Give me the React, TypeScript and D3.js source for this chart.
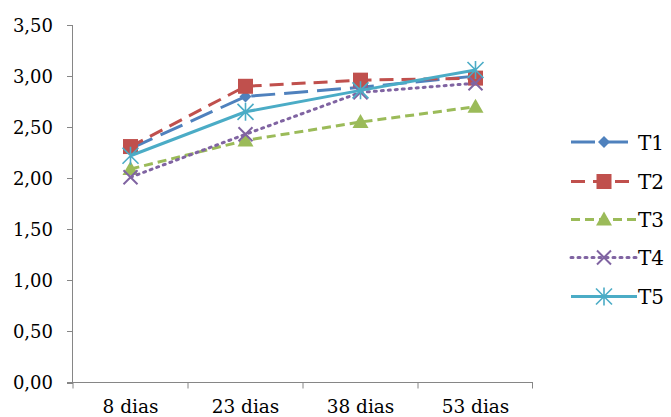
import React from "react";
import * as d3 from "d3";

const categories = ["8 dias", "23 dias", "38 dias", "53 dias"];
const seriesNames = ["T1", "T2", "T3", "T4", "T5"];
const t1 = [2.29, 2.8, 2.89, 3.0];
const t2 = [2.31, 2.9, 2.96, 2.98];
const t3 = [2.09, 2.37, 2.55, 2.7];
const t4 = [2.01, 2.43, 2.84, 2.93];
const t5 = [2.22, 2.65, 2.86, 3.06];
const yTicks = [0, 0.5, 1, 1.5, 2, 2.5, 3, 3.5];

const seriesValues = [t1, t2, t3, t4, t5];
const colors = ["#4F81BD", "#C0504D", "#9BBB59", "#8064A2", "#4BACC6"];
const dashes = ["24,9", "14,8", "9,5", "2,5", "none"];
const markerTypes = ["diamond", "square", "triangle", "x", "star"];

const W = 671;
const H = 417;
const FONT = "'DejaVu Serif', serif";
const AXIS = "#868686";

function Marker({ type, x, y, color }: { type: string; x: number; y: number; color: string }) {
  if (type === "diamond") {
    const s = 6;
    return <path d={`M${x},${y - s}L${x + s},${y}L${x},${y + s}L${x - s},${y}Z`} fill={color} />;
  }
  if (type === "square") {
    const s = 7.5;
    return <rect x={x - s} y={y - s} width={2 * s} height={2 * s} fill={color} />;
  }
  if (type === "triangle") {
    const s = 8;
    return <path d={`M${x},${y - s}L${x + s},${y + s * 0.75}L${x - s},${y + s * 0.75}Z`} fill={color} />;
  }
  if (type === "x") {
    const s = 7;
    return (
      <path d={`M${x - s},${y - s}L${x + s},${y + s}M${x - s},${y + s}L${x + s},${y - s}`} stroke={color} strokeWidth={2} />
    );
  }
  const s = 8;
  return (
    <path
      d={`M${x - s},${y - s}L${x + s},${y + s}M${x - s},${y + s}L${x + s},${y - s}M${x},${y - s - 1}L${x},${y + s + 1}`}
      stroke={color}
      strokeWidth={1.6}
    />
  );
}

export default function App() {
  const x0 = 73;
  const x1 = 533;
  const yTop = 25;
  const yBot = 382.5;
  const xBand = d3.scaleBand<string>().domain(categories).range([x0, x1]);
  const xc = (c: string) => (xBand(c) as number) + xBand.bandwidth() / 2;
  const y = d3.scaleLinear().domain([0, 3.5]).range([yBot, yTop]);
  const line = d3
    .line<number>()
    .x((_, i) => xc(categories[i]))
    .y((d) => y(d));

  const legendY = [142, 181.5, 219.5, 257.5, 296.5];
  const lx0 = 571;
  const lx1 = 637;

  return (
    <svg width={W} height={H} style={{ position: "absolute", left: 0, top: 0, background: "#fff" }}>
      <rect x={0} y={0} width={W} height={H} fill="#fff" />
      {/* y axis */}
      <line x1={x0 - 0.5} x2={x0 - 0.5} y1={yTop} y2={yBot} stroke={AXIS} strokeWidth={1} />
      {yTicks.map((t) => (
        <g key={t}>
          <line x1={x0 - 6} x2={x0} y1={Math.round(y(t)) + 0.5} y2={Math.round(y(t)) + 0.5} stroke={AXIS} />
          <text x={53} y={y(t) + 6.5} textAnchor="end" fontFamily={FONT} fontSize={18} fill="#000">
            {d3.format(".2f")(t).replace(".", ",")}
          </text>
        </g>
      ))}
      {/* x axis */}
      <line x1={x0 - 6} x2={x1} y1={yBot} y2={yBot} stroke={AXIS} strokeWidth={1} />
      {categories.map((c, i) => (
        <line key={"t" + i} x1={xBand(c)} x2={xBand(c)} y1={yBot} y2={yBot + 6} stroke={AXIS} />
      ))}
      <line x1={x1 - 0.5} x2={x1 - 0.5} y1={yBot} y2={yBot + 6} stroke={AXIS} />
      {categories.map((c) => (
        <text key={c} x={xc(c)} y={413} textAnchor="middle" fontFamily={FONT} fontSize={18.5} fill="#000">
          {c}
        </text>
      ))}
      {/* series */}
      {seriesValues.map((vals, si) => (
        <g key={si}>
          <path
            d={line(vals) as string}
            fill="none"
            stroke={colors[si]}
            strokeWidth={3}
            strokeDasharray={dashes[si]}
            strokeLinecap={si === 3 ? "round" : "butt"}
          />
          {vals.map((v, i) => (
            <Marker key={i} type={markerTypes[si]} x={xc(categories[i])} y={y(v)} color={colors[si]} />
          ))}
        </g>
      ))}
      {/* legend */}
      {seriesNames.map((n, si) => (
        <g key={n}>
          <line
            x1={lx0}
            x2={lx1}
            y1={legendY[si]}
            y2={legendY[si]}
            stroke={colors[si]}
            strokeWidth={3}
            strokeDasharray={dashes[si]}
            strokeLinecap={si === 3 ? "round" : "butt"}
          />
          <Marker type={markerTypes[si]} x={(lx0 + lx1) / 2} y={legendY[si]} color={colors[si]} />
          <text x={638} y={legendY[si] + 7.5} textAnchor="start" fontFamily={FONT} fontSize={20} fill="#000">
            {n}
          </text>
        </g>
      ))}
    </svg>
  );
}
